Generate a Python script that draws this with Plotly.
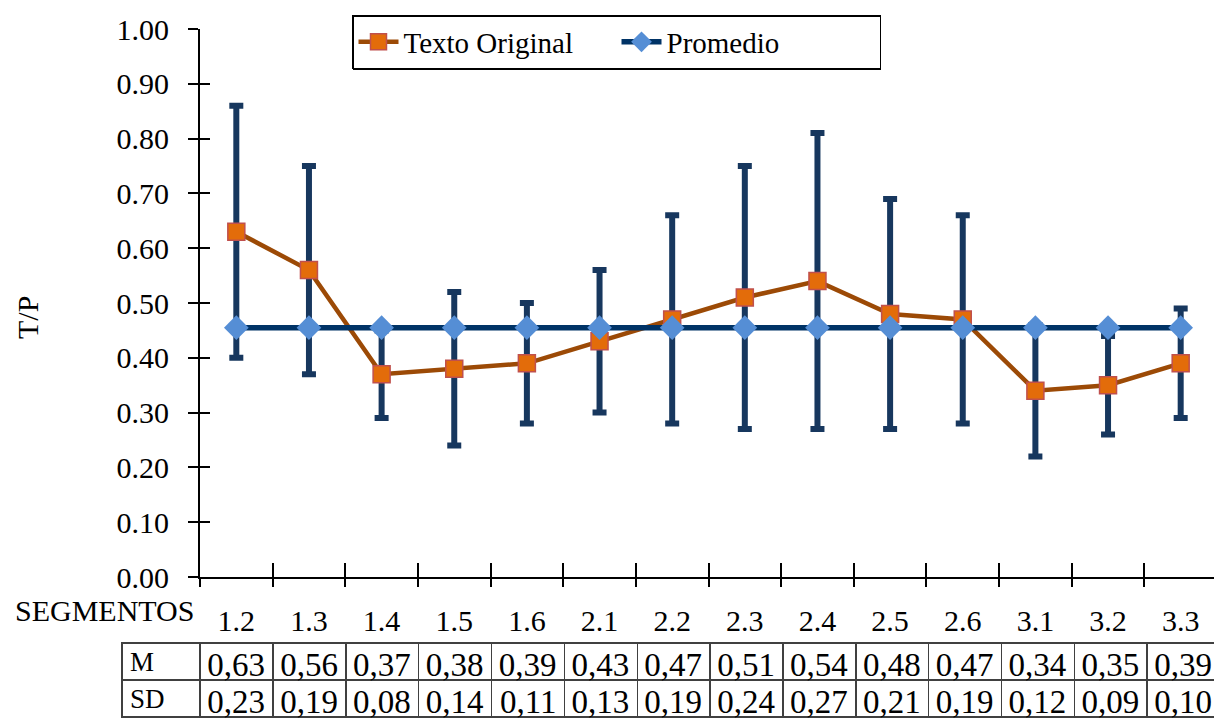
import plotly.graph_objects as go

segmentos = ["1.2", "1.3", "1.4", "1.5", "1.6", "2.1", "2.2", "2.3", "2.4", "2.5", "2.6", "3.1", "3.2", "3.3"]
texto_original = [0.63, 0.56, 0.37, 0.38, 0.39, 0.43, 0.47, 0.51, 0.54, 0.48, 0.47, 0.34, 0.35, 0.39]
sd = [0.23, 0.19, 0.08, 0.14, 0.11, 0.13, 0.19, 0.24, 0.27, 0.21, 0.19, 0.12, 0.09, 0.10]
promedio = [0.455, 0.455, 0.455, 0.455, 0.455, 0.455, 0.455, 0.455, 0.455, 0.455, 0.455, 0.455, 0.455, 0.455]

FONT = "Liberation Serif, Times New Roman, serif"
OFF = 8  # page body margin
W, H = 1222 - OFF, 722 - OFF


def fx(px):
    return (px - OFF) / W


def fy(py):
    return (H - (py - OFF)) / H


px_l, px_r, px_t, px_b = 200, 1217, 29, 577

fig = go.Figure()

# error bars (drawn behind lines)
fig.add_trace(go.Scatter(
    x=segmentos, y=texto_original, mode="markers",
    marker=dict(opacity=0, size=2), showlegend=False, hoverinfo="skip",
    error_y=dict(type="data", array=sd, visible=True, color="#17375E", thickness=6, width=7),
))
fig.add_trace(go.Scatter(
    x=segmentos, y=texto_original, mode="lines+markers", name="Texto Original",
    line=dict(color="#9C4A06", width=4.5),
    marker=dict(symbol="square", size=17, color="#E36C0A", line=dict(color="#C0504D", width=1.5)),
))
fig.add_trace(go.Scatter(
    x=segmentos, y=promedio, mode="lines+markers", name="Promedio",
    line=dict(color="#003366", width=5.5),
    marker=dict(symbol="diamond", size=19, color="#558ED5", line=dict(width=0)),
))
# empty trace for overlay axes (inner half of crossing ticks)
fig.add_trace(go.Scatter(x=[], y=[], xaxis="x2", yaxis="y2", showlegend=False, hoverinfo="skip"))

boundaries = [i - 0.5 for i in range(len(segmentos) + 1)]

xdom = [fx(px_l), fx(px_r)]
ydom = [fy(px_b), fy(px_t)]

fig.update_layout(
    width=W, height=H,
    margin=dict(l=0, r=0, t=0, b=0),
    paper_bgcolor="white", plot_bgcolor="white",
    font=dict(family=FONT, color="black"),
    xaxis=dict(
        domain=xdom, type="category", categoryorder="array", categoryarray=segmentos,
        range=[-0.5, len(segmentos) - 0.5], tickson="boundaries",
        ticks="outside", ticklen=8, tickwidth=2, tickcolor="black",
        showline=True, linecolor="black", linewidth=2, showgrid=False, zeroline=False,
        tickfont=dict(family=FONT, size=30, color="black"), ticklabelstandoff=16,
        automargin=False,
    ),
    yaxis=dict(
        domain=ydom, range=[0, 1], dtick=0.1, tickformat=".2f",
        ticks="outside", ticklen=10, tickwidth=2, tickcolor="black",
        showline=True, linecolor="black", linewidth=2, showgrid=False, zeroline=False,
        tickfont=dict(family=FONT, size=30, color="black"), ticklabelstandoff=13,
        automargin=False,
    ),
    xaxis2=dict(
        overlaying="x", anchor="y2", range=[-0.5, len(segmentos) - 0.5],
        tickvals=boundaries, ticks="inside", ticklen=14, tickwidth=2, tickcolor="black",
        showticklabels=False, showline=False, showgrid=False, zeroline=False,
    ),
    yaxis2=dict(
        overlaying="y", anchor="x2", range=[0, 1], dtick=0.1,
        ticks="inside", ticklen=10, tickwidth=2, tickcolor="black",
        showticklabels=False, showline=False, showgrid=False, zeroline=False,
    ),
    legend=dict(
        orientation="h", x=fx(352), xanchor="left", y=fy(15), yanchor="top",
        bordercolor="black", borderwidth=1.5, bgcolor="white",
        font=dict(family=FONT, size=29, color="black"),
        itemwidth=40, entrywidth=208,
    ),
    showlegend=True,
)

# legend box shadow (thick bottom edge, as in the reference)
fig.add_shape(
    type="line", xref="paper", yref="paper",
    x0=fx(353), x1=fx(881), y0=fy(68.5), y1=fy(68.5),
    line=dict(color="black", width=3),
)

fig.add_annotation(
    text="T/P", textangle=-90, x=fx(27), y=fy(318), xref="paper", yref="paper",
    xanchor="center", yanchor="middle",
    showarrow=False, font=dict(family=FONT, size=30, color="black"),
)
fig.add_annotation(
    text="SEGMENTOS", x=fx(105), y=fy(610), xref="paper", yref="paper",
    xanchor="center", yanchor="middle",
    showarrow=False, font=dict(family=FONT, size=30, color="black"),
)

m_row = ["M"] + [f"{v:.2f}".replace(".", ",") for v in texto_original]
sd_row = ["SD"] + [f"{v:.2f}".replace(".", ",") for v in sd]
col_w = [78] + [(px_r - px_l) / len(segmentos)] * len(segmentos)
aligns = ["left"] + ["right"] * len(segmentos)
sizes = [27] + [33] * len(segmentos)

fig.add_trace(go.Table(
    domain=dict(x=[fx(122), fx(1220)], y=[0, fy(643)]),
    columnwidth=col_w,
    header=dict(values=m_row, height=37, align=aligns, fill_color="white",
                line=dict(color="#404040", width=1.5),
                font=dict(family=FONT, size=sizes, color="black")),
    cells=dict(values=[[v] for v in sd_row], height=37, align=aligns, fill_color="white",
               line=dict(color="#404040", width=1.5),
               font=dict(family=FONT, size=sizes, color="black")),
))

fig.write_html("out.html")
